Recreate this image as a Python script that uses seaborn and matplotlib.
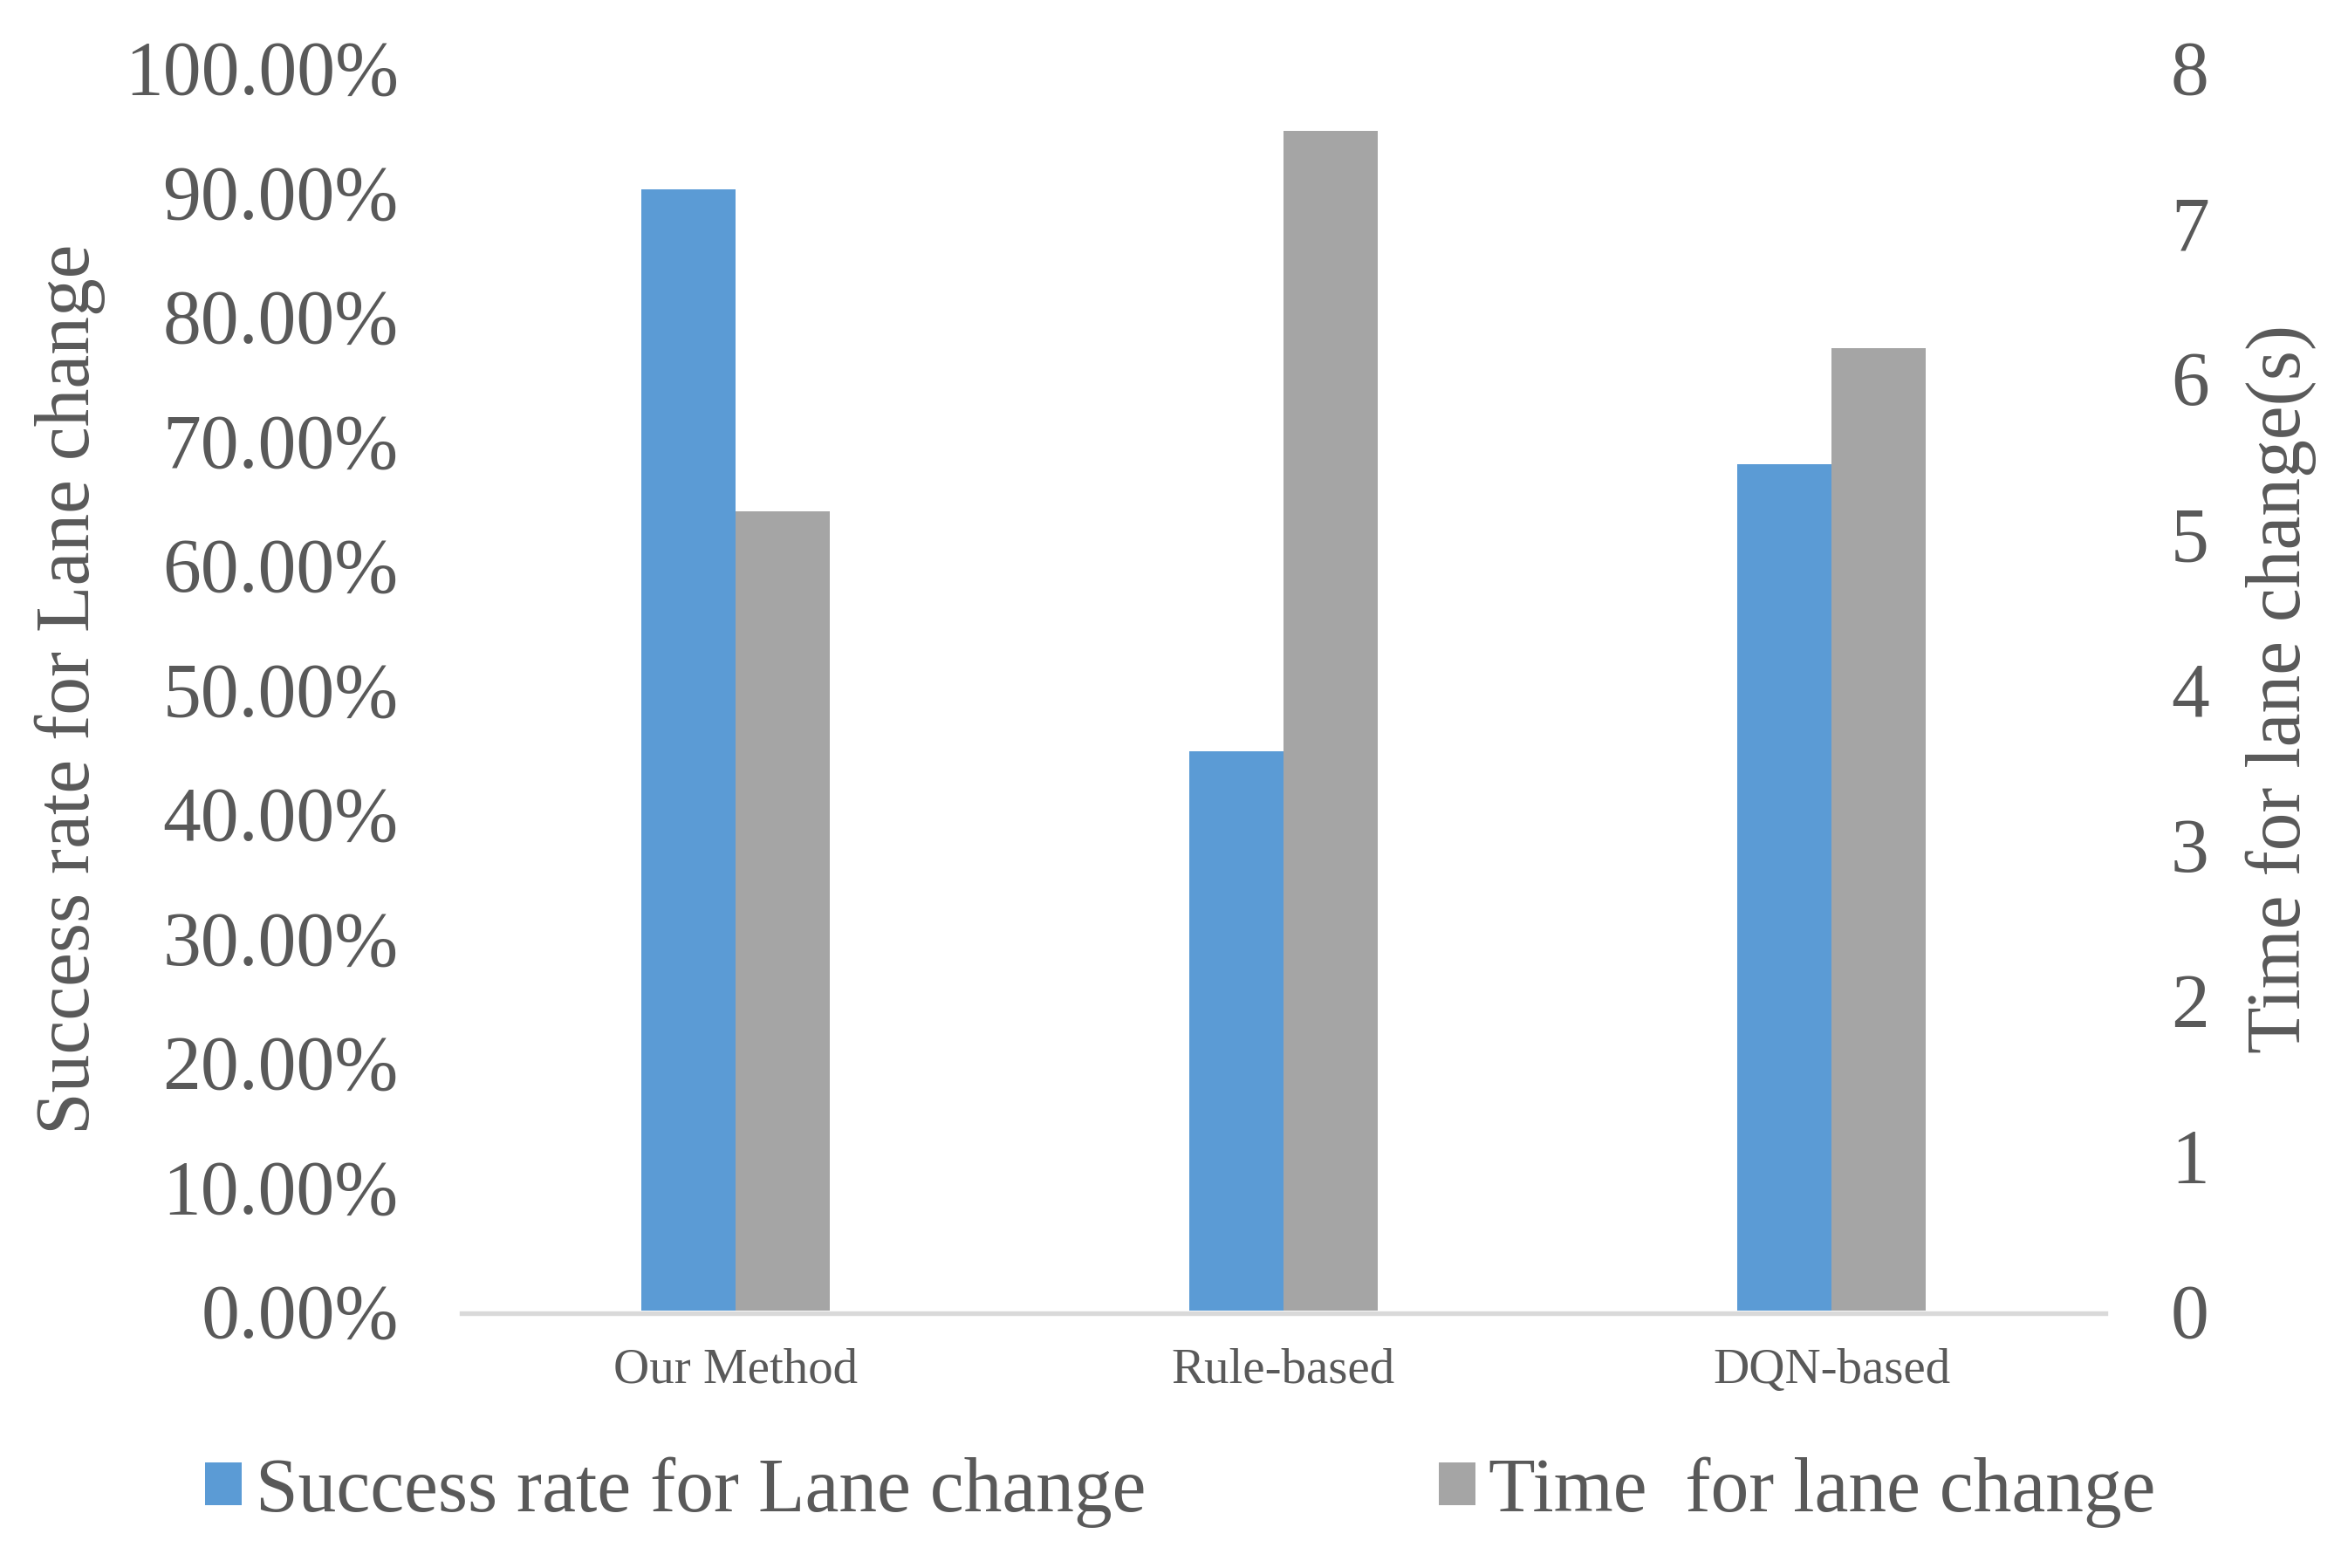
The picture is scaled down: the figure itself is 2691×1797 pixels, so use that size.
import matplotlib
matplotlib.use("Agg")
import matplotlib.pyplot as plt
import seaborn as sns
import pandas as pd
from matplotlib.patches import Patch
from matplotlib.ticker import PercentFormatter, FixedLocator

# ---------------- data ----------------
categories = ["Our Method", "Rule-based", "DQN-based"]
success_rate = [0.902, 0.450, 0.681]          # left axis (fraction)
lane_change_time = [5.14, 7.59, 6.19]          # right axis (s)
series_names = ["Success rate for Lane change", "Time  for lane change"]
left_ticks = [0.0, 0.1, 0.2, 0.3, 0.4, 0.5, 0.6, 0.7, 0.8, 0.9, 1.0]
right_ticks = [0, 1, 2, 3, 4, 5, 6, 7, 8]
left_label = "Success rate for Lane change"
right_label = "Time for lane change(s)"

# ---------------- style ----------------
sns.set_theme(style="white")
plt.rcParams["font.family"] = ["Liberation Serif", "DejaVu Serif"]
TXT = "#595959"
BLUE = "#5B9BD5"
GRAY = "#A5A5A5"
palette = {series_names[0]: BLUE, series_names[1]: GRAY}
BIG = 63
SMALL = 41

W, H = 2691, 1797
fig = plt.figure(figsize=(W / 100, H / 100), dpi=100)
fig.patch.set_facecolor("white")
x0, x1, ytop, ybot = 529, 2413, 77, 1502
ax1 = fig.add_axes([x0 / W, 1 - ybot / H, (x1 - x0) / W, (ybot - ytop) / H])
ax2 = ax1.twinx()

df_s = pd.DataFrame({"method": categories, "value": success_rate, "series": series_names[0]})
df_t = pd.DataFrame({"method": categories, "value": lane_change_time, "series": series_names[1]})

common = dict(x="method", y="value", hue="series", hue_order=series_names,
              order=categories, palette=palette, width=0.344, saturation=1,
              legend=False, linewidth=0, errorbar=None, dodge=True)
sns.barplot(data=df_s, ax=ax1, **common)
sns.barplot(data=df_t, ax=ax2, **common)

# ---------------- axes ----------------
ax1.set_xlim(-0.5, len(categories) - 0.5)
ax1.set_ylim(0, 1.0)
ax2.set_ylim(0, 8)
ax1.yaxis.set_major_locator(FixedLocator(left_ticks))
ax1.yaxis.set_major_formatter(PercentFormatter(xmax=1.0, decimals=2))
ax2.yaxis.set_major_locator(FixedLocator(right_ticks))

for ax in (ax1, ax2):
    ax.set_facecolor("none")
    ax.grid(False)
    for s in ax.spines.values():
        s.set_visible(False)
ax1.patch.set_facecolor("white")
ax1.spines["bottom"].set_visible(True)
ax1.spines["bottom"].set_color("#D9D9D9")
ax1.spines["bottom"].set_linewidth(3.9)
ax1.spines["bottom"].set_position(("outward", 1.95))

ax1.tick_params(axis="y", length=0, pad=52, labelsize=BIG, labelcolor=TXT)
ax2.tick_params(axis="y", length=0, pad=54, labelsize=BIG, labelcolor=TXT)
ax1.tick_params(axis="x", length=0, pad=29, labelsize=SMALL, labelcolor=TXT)
ax2.tick_params(axis="x", length=0, labelbottom=False, labeltop=False)
ax1.set_xticks(range(len(categories)))
ax1.set_xticklabels(categories)

ax1.set_xlabel("")
ax2.set_xlabel("")
ax1.set_ylabel(left_label, fontsize=BIG, color=TXT)
ax2.set_ylabel(right_label, fontsize=BIG, color=TXT, rotation=90)
ax1.yaxis.set_label_coords((80 - x0) / (x1 - x0), 0.5)
ax2.yaxis.set_label_coords((2614 - x0) / (x1 - x0), 0.5)
for lab in (ax1.yaxis.label, ax2.yaxis.label):
    lab.set_va("center")
    lab.set_ha("center")

# ---------------- legend ----------------
handles = [Patch(facecolor=palette[n], edgecolor="none") for n in series_names]
leg = fig.legend(handles, series_names, loc="center",
                 bbox_to_anchor=(1353 / W, 1 - 1710 / H), ncol=2, frameon=False,
                 fontsize=BIG, handlelength=0.48, handleheight=0.48,
                 handletextpad=0.18, columnspacing=3.83, borderpad=0, borderaxespad=0)
for t in leg.get_texts():
    t.set_color(TXT)

fig.savefig("out.png", dpi=100, facecolor="white")
